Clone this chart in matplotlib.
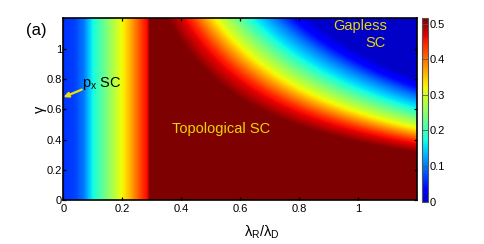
import numpy as np
import matplotlib
matplotlib.use("Agg")
import matplotlib.pyplot as plt
from matplotlib.colors import Normalize

plt.rcParams['font.family'] = ['Liberation Sans', 'DejaVu Sans']
plt.rcParams['mathtext.fontset'] = 'custom'
plt.rcParams['mathtext.rm'] = 'Liberation Sans'
plt.rcParams['mathtext.it'] = 'Liberation Sans:italic'

band_x = [0.0, 0.04, 0.07, 0.10, 0.14, 0.18, 0.22, 0.26, 0.29, 0.295, 2.0]
band_gap = [0.06, 0.07, 0.10, 0.17, 0.23, 0.29, 0.35, 0.42, 0.47, 0.90, 0.90]

# gap across the curved band, read along gamma * x^1.1
edge_q = [0.0, 0.38, 0.47, 0.585, 0.73, 0.83, 0.91, 0.98, 3.0]
edge_gap = [0.90, 0.516, 0.447, 0.309, 0.172, 0.10, 0.034, 0.0, 0.0]

xticks = [0, 0.2, 0.4, 0.6, 0.8, 1]
xlabels = ["0", "0.2", "0.4", "0.6", "0.8", "1"]
yticks = [0, 0.2, 0.4, 0.6, 0.8, 1]
ylabels = ["0", "0.2", "0.4", "0.6", "0.8", "1"]
cticks = [0, 0.1, 0.2, 0.3, 0.4, 0.5]
clabels = ["0", "0.1", "0.2", "0.3", "0.4", "0.5"]

xmax, ymax, vmax = 1.2, 1.2, 0.516

xs = np.linspace(0, xmax, 600)
ys = np.linspace(0, ymax, 400)
X, Y = np.meshgrid(xs, ys)
gap1 = np.interp(X, band_x, band_gap)
gap2 = np.interp(Y * X ** 1.1, edge_q, edge_gap)
gap = np.minimum(gap1, gap2)

W, H = 485, 244
fig = plt.figure(figsize=(W / 100, H / 100), dpi=100)
ax = fig.add_axes([63.5 / W, (H - 200.3) / H, 354 / W, 182 / H])
norm = Normalize(vmin=-0.035, vmax=vmax)
im = ax.imshow(gap, extent=[0, xmax, 0, ymax], origin='lower', aspect='auto',
               cmap='jet', norm=norm, interpolation='bilinear')
ax.set_xlim(0, xmax)
ax.set_ylim(0, ymax)
ax.set_xticks(xticks)
ax.set_xticklabels(xlabels)
ax.set_yticks(yticks)
ax.set_yticklabels(ylabels)
ax.tick_params(direction='in', length=2.5, width=0.9, top=True, right=True,
               labelsize=8, color='black')
ax.tick_params(axis='y', pad=1)
ax.tick_params(axis='x', pad=2.5)
for s in ax.spines.values():
    s.set_linewidth(1.2)

ax.set_xlabel('λ$_\\mathrm{R}$/λ$_\\mathrm{D}$', fontsize=10.5, labelpad=2)
ax.xaxis.set_label_coords((262 - 63.5) / 354, -0.13)
ax.set_ylabel('γ', fontsize=10.5, labelpad=0)

yellow = '#e8d800'
ax.text(0.533, 0.469, 'Topological SC', color=yellow, fontsize=10.5,
        ha='center', va='center')
ax.text(1.005, 1.147, 'Gapless', color=yellow, fontsize=10.5, ha='center', va='center')
ax.text(1.058, 1.04, 'SC', color=yellow, fontsize=10.5, ha='center', va='center')
ax.text(0.063, 0.745, 'p$_\\mathrm{x}$ SC', color='black', fontsize=10.5,
        ha='left', va='baseline')
ax.annotate('', xy=(0.0, 0.68), xytext=(0.062, 0.73),
            arrowprops=dict(arrowstyle='-|>', color='#f0e000', lw=1.6,
                            mutation_scale=7, shrinkA=0, shrinkB=0))

fig.text(36 / W, 1 - 31 / H, '(a)', fontsize=12, ha='center', va='center')

cax = fig.add_axes([421.7 / W, (H - 201.5) / H, 6.6 / W, 183.2 / H])
cb = fig.colorbar(im, cax=cax)
cax.set_ylim(0, vmax)
cb.set_ticks(cticks)
cb.set_ticklabels(clabels)
cax.tick_params(direction='in', length=2, width=0.6, labelsize=8, pad=1,
                color='#555555', left=True)
cb.outline.set_edgecolor('#555555')
cb.outline.set_linewidth(0.8)

fig.savefig('out.png', dpi=100)
